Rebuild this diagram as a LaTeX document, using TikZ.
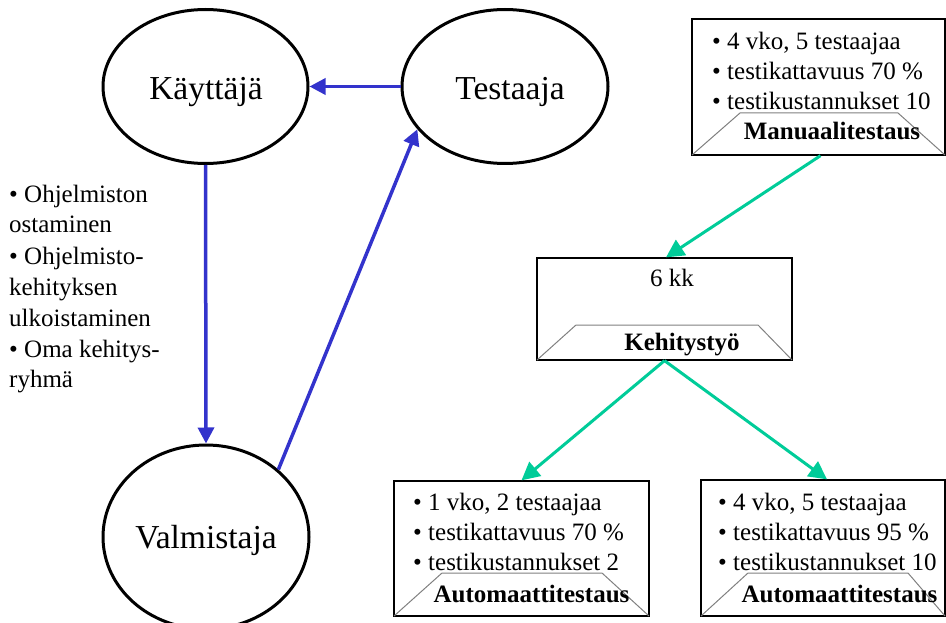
\documentclass[tikz,border=0pt]{standalone}
\usepackage{fontspec}
\setmainfont{Liberation Serif}
\usetikzlibrary{shapes.geometric,arrows.meta}
\definecolor{flowblue}{RGB}{51,51,204}
\definecolor{flowgreen}{RGB}{0,204,153}
\definecolor{tabgray}{RGB}{128,128,128}
\begin{document}
\begin{tikzpicture}[x=1pt,y=-1pt,
  actor/.style={draw, ellipse, line width=3pt, inner sep=0pt},
  bigtext/.style={font=\fontsize{33.5}{40}\selectfont, inner sep=0pt, anchor=base},
  txt/.style={font=\fontsize{25}{30}\selectfont, inner sep=0pt, anchor=base west},
  ctxt/.style={font=\fontsize{25}{30}\selectfont, inner sep=0pt, anchor=base},
  tag/.style={font=\bfseries\fontsize{25}{30}\selectfont, inner sep=0pt, anchor=base},
  card/.style={draw, line width=1.3pt, rectangle, inner sep=0pt},
  tab/.style={draw=tabgray, line width=1pt},
  bluearrow/.style={draw=flowblue, line width=3.5pt, -{Triangle[length=16pt,width=16pt]}},
  greenarrow/.style={draw=flowgreen, line width=3pt, -{Triangle[length=18pt,width=18pt]}}
]
\useasboundingbox (0,0) rectangle (946,623);

% --- actors ---
\node[actor, minimum width=205pt, minimum height=154pt] (kay) at (205.5,86.5) {};
\node[actor, minimum width=206pt, minimum height=154pt] (tes) at (505,86.5) {};
\node[actor, minimum width=206pt, minimum height=184pt] (val) at (206,537) {};
\node[bigtext] (kayl) at (206,100) {Käyttäjä};
\node[bigtext] (tesl) at (510,100) {Testaaja};
\node[bigtext] (vall) at (206,548) {Valmistaja};

% --- relations between actors ---
\draw[bluearrow] (tes) -- (kay);
\draw[bluearrow] (kay.south) -- (val.north);
\draw[bluearrow] (val.43) -- (tes.206);

% --- options listed beside the vertical arrow ---
\node[txt] (o1) at (9,203) {• Ohjelmiston};
\node[txt] (o2) at (9,233) {ostaminen};
\node[txt] (o3) at (9,264) {• Ohjelmisto-};
\node[txt] (o4) at (9,295) {kehityksen};
\node[txt] (o5) at (9,326) {ulkoistaminen};
\node[txt] (o6) at (9,357) {• Oma kehitys-};
\node[txt] (o7) at (9,387) {ryhmä};

% --- manual testing card ---
\node[card, minimum width=253pt, minimum height=136pt] (man) at (818.5,87) {};
\draw[tab] (692,155) -- (740,113) -- (898,113) -- (945,155);
\node[txt] (m1) at (712,50) {• 4 vko, 5 testaajaa};
\node[txt] (m2) at (712,80) {• testikattavuus 70 \%};
\node[txt] (m3) at (712,110) {• testikustannukset 10};
\node[tag] (mt) at (832,140) {Manuaalitestaus};

% --- development card ---
\node[card, minimum width=255pt, minimum height=102pt] (keh) at (664.5,309) {};
\draw[tab] (537,360) -- (576,325) -- (758,325) -- (792,360);
\node[ctxt] (k1) at (672,287) {6 kk};
\node[tag] (kt) at (682,350) {Kehitystyö};

% --- automated testing, option A ---
\node[card, minimum width=255pt, minimum height=135pt] (aa) at (521.5,548.5) {};
\draw[tab] (394,616) -- (442,573) -- (602,573) -- (649,616);
\node[txt] (a1) at (413,510) {• 1 vko, 2 testaajaa};
\node[txt] (a2) at (413,540) {• testikattavuus 70 \%};
\node[txt] (a3) at (413,570) {• testikustannukset 2};
\node[tag] (at) at (531.5,602) {Automaattitestaus};

% --- automated testing, option B ---
\node[card, minimum width=244pt, minimum height=136pt] (ab) at (823,548) {};
\draw[tab] (701,616) -- (748,573) -- (908,573) -- (945,616);
\node[txt] (b1) at (718,510) {• 4 vko, 5 testaajaa};
\node[txt] (b2) at (718,540) {• testikattavuus 95 \%};
\node[txt] (b3) at (718,570) {• testikustannukset 10};
\node[tag] (bt) at (839.5,602) {Automaattitestaus};

% --- flow between cards ---
\draw[greenarrow] ([xshift=2pt]man.south) -- ([xshift=1.5pt]keh.north);
\draw[greenarrow] (keh.south) -- (aa.north);
\draw[greenarrow] (keh.south) -- ([xshift=4pt]ab.north);
\end{tikzpicture}
\end{document}
